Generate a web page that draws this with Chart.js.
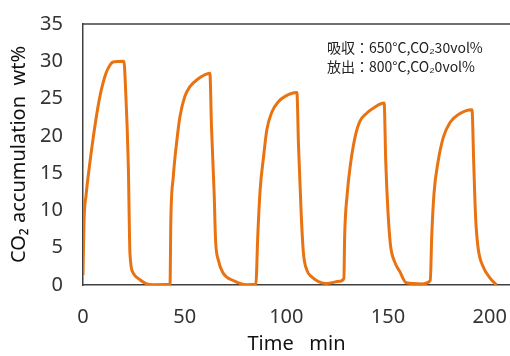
<!DOCTYPE html>
<html>
<head>
<meta charset="utf-8">
<script src="https://cdn.jsdelivr.net/npm/chart.js@4"></script>
<style>
  html, body { margin: 0; padding: 0; background: #fff; }
  #wrap { width: 510px; height: 356px; }
</style>
</head>
<body>
<div id="wrap"><canvas id="chart"></canvas></div>
<script>
// time (min) and CO2 accumulation (wt%), five cycles
const time = [
  0, 0.5, 1.5, 3.2, 5.9, 8.4, 11.3, 13.3, 14.7, 20.1, 20.9, 22.3, 23.1, 24.7, 28, 31.3, 34.4, 42.8,
  43.2, 44.4, 46.0, 47.7, 50.1, 52.6, 55.9, 62.4, 63.2, 64.5, 65.2, 66.5, 68.9, 73.9, 78, 80.4, 85.0,
  86.0, 87.1, 88.8, 90.4, 92.9, 96.2, 99.4, 105.2, 106.0, 107.3, 108.4, 110.1, 112.5, 119.8, 126.3, 128.3,
  128.7, 129.9, 131.5, 133.7, 136.1, 139.4, 142.7, 148.1, 148.9, 150.0, 151.2, 153.3, 155.8, 159, 167, 170.8,
  171.5, 172.6, 174.6, 177.2, 180.5, 184.8, 191.3, 192.2, 193.1, 194.3, 196.7, 200, 203.3
];
const co2 = [
  1.3, 8.5, 12, 16, 21.4, 25.4, 28.4, 29.5, 29.9, 30.0, 26.6, 15.9, 4.2, 1.6, 0.7, 0.15, 0.05, 0.1,
  8.7, 14.5, 19, 22.6, 25.3, 26.6, 27.5, 28.4, 21.2, 12.3, 6, 3.4, 1.6, 0.6, 0.15, 0.05, 0.1,
  6.9, 12.7, 17.2, 20.8, 23.2, 24.6, 25.3, 25.8, 18.6, 9.6, 4.3, 2, 1.1, 0.2, 0.5, 0.9,
  6.7, 12.1, 16.1, 19.7, 21.9, 23, 23.7, 24.4, 16.5, 9.8, 5.4, 3.1, 1.8, 0.3, 0.15, 0.6,
  6.5, 12.2, 16.5, 19.8, 21.8, 22.9, 23.5, 16, 9, 5, 2.5, 1.0, 0
];
const yTicks = [0, 5, 10, 15, 20, 25, 30, 35];
const xTicks = [0, 50, 100, 150, 200];
const noteLines = ['吸収：650°C,CO₂30vol%', '放出：800°C,CO₂0vol%'];

const textColor = '#333333';
const axisColor = '#404040';
const fontFamily = '"Noto Sans", "Noto Sans CJK JP", sans-serif';

const frameAndNote = {
  id: 'frameAndNote',
  afterDraw: (chart) => {
    const { ctx, chartArea } = chart;
    ctx.save();
    ctx.strokeStyle = axisColor;
    ctx.lineWidth = 1.5;
    ctx.beginPath();
    ctx.moveTo(chartArea.left, chartArea.top);
    ctx.lineTo(chartArea.right, chartArea.top);
    ctx.stroke();

    ctx.fillStyle = '#222';
    ctx.font = '14px "Noto Sans CJK JP", sans-serif';
    ctx.textBaseline = 'middle';
    noteLines.forEach((line, i) => {
      ctx.fillText(line, 327, 48 + i * 18.5);
    });
    ctx.restore();
  }
};

new Chart(document.getElementById('chart'), {
  type: 'line',
  data: {
    datasets: [{
      data: time.map((t, i) => ({ x: t, y: co2[i] })),
      borderColor: '#E97311',
      borderWidth: 3,
      pointRadius: 0,
      cubicInterpolationMode: 'monotone',
      fill: false
    }]
  },
  options: {
    responsive: true,
    maintainAspectRatio: false,
    animation: false,
    layout: { padding: { top: 24, right: 0, left: 0, bottom: 0 } },
    plugins: {
      legend: { display: false },
      tooltip: { enabled: false }
    },
    scales: {
      x: {
        type: 'linear',
        min: 0,
        max: 210,
        afterBuildTicks: (scale) => { scale.ticks = xTicks.map((v) => ({ value: v })); },
        afterFit: (scale) => {
          scale.height = 71;
          scale.paddingLeft = 0;
          scale.paddingRight = 0;
        },
        grid: { display: false, drawTicks: false },
        border: { display: true, color: axisColor, width: 1.5 },
        ticks: {
          color: textColor,
          padding: 20,
          maxRotation: 0,
          font: { family: fontFamily, size: 20 }
        },
        title: {
          display: true,
          text: 'Time   min',
          color: '#111',
          padding: { top: 0, bottom: 0 },
          font: { family: fontFamily, size: 20 }
        }
      },
      y: {
        min: 0,
        max: 35,
        afterBuildTicks: (scale) => { scale.ticks = yTicks.map((v) => ({ value: v })); },
        afterFit: (scale) => {
          scale.width = 83;
          scale.paddingTop = 0;
          scale.paddingBottom = 0;
        },
        grid: { display: false, drawTicks: false },
        border: { display: true, color: axisColor, width: 1.5 },
        ticks: {
          color: textColor,
          padding: 20,
          font: { family: fontFamily, size: 20 }
        },
        title: {
          display: true,
          text: 'CO₂ accumulation  wt%',
          color: '#111',
          padding: { top: 7, bottom: 0 },
          font: { family: fontFamily, size: 20 }
        }
      }
    }
  },
  plugins: [frameAndNote]
});
</script>
</body>
</html>
